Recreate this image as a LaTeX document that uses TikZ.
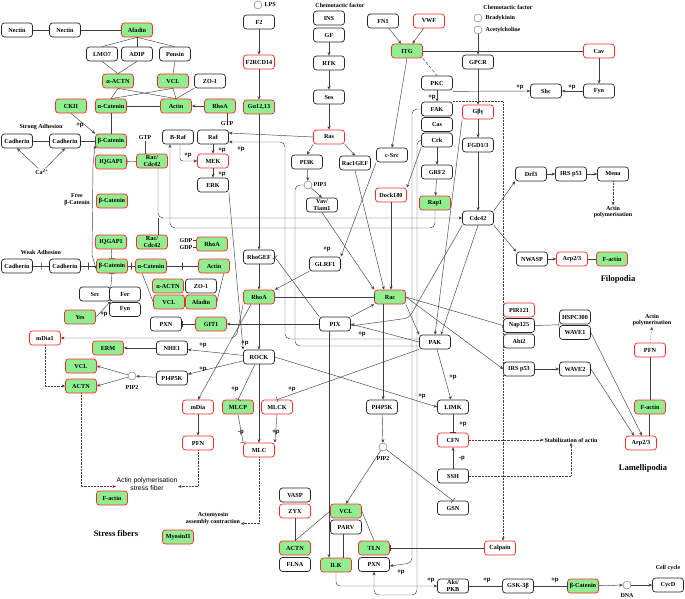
\documentclass[tikz,border=0pt]{standalone}
\usepackage{fontspec}
\setmainfont{Liberation Serif}
\newfontfamily\labfont{Liberation Sans}
\usetikzlibrary{arrows.meta,calc}
\definecolor{gfill}{RGB}{144,238,144}
\definecolor{rbord}{RGB}{255,40,40}
\begin{document}
\begin{tikzpicture}[x=1pt,y=-1pt,
  box/.style={draw, rounded corners=3pt, line width=0.7pt, minimum width=31pt, minimum height=14pt, inner sep=1pt, fill=white, font=\bfseries\fontsize{6.2}{6.6}\selectfont, align=center},
  wb/.style={box, draw=black!85},
  rb/.style={box, draw=rbord},
  gb/.style={box, draw=rbord, fill=gfill},
  ln/.style={draw=black!75, line width=0.45pt},
  ar/.style={ln, -{Stealth[length=3.5pt,width=3pt]}},
  dar/.style={ln, densely dotted, -{Stealth[length=3.5pt,width=3pt]}},
  bar/.style={ln, -{Bar[width=6pt]}},
  txt/.style={font=\bfseries\fontsize{6}{6.8}\selectfont, inner sep=0.5pt, align=center},
  big/.style={font=\bfseries\fontsize{8.5}{9}\selectfont, inner sep=0.5pt},
  sans/.style={font=\labfont\fontsize{6.8}{8}\selectfont, inner sep=0.5pt, align=center},
  pl/.style={font=\labfont\bfseries\fontsize{6}{6}\selectfont, inner sep=0.3pt},
  circ/.style={circle, draw=black!60, fill=white, minimum size=8pt, inner sep=0pt},
  tick/.style={rectangle, draw=black!75, line width=0.45pt, minimum width=0pt, minimum height=7pt, inner sep=0pt}
]
\fill[white] (0,0) rectangle (685,599);
\path[use as bounding box] (0,0) rectangle (685,599);

% ---------- top-left cluster ----------
\node[wb] (nec1) at (17,30) {Nectin};
\node[wb] (nec2) at (65,30) {Nectin};
\node[gb] (afa1) at (137,30) {Afadin};
\node[wb] (lmo7) at (102,54) {LMO7};
\node[wb] (adip) at (137,54) {ADIP};
\node[wb] (pons) at (175,54) {Ponsin};
\node[gb] (aactn1) at (118,81) {α-ACTN};
\node[gb] (vcl1) at (173,81) {VCL};
\node[wb] (zo1a) at (210,81) {ZO-1};
\node[gb] (ckii) at (71,106) {CKII};
\node[gb] (acat1) at (111,106) {α-Catenin};
\node[gb] (actin1) at (176,106) {Actin};
\node[gb] (rhoa1) at (220,106) {RhoA};
\node[txt] (gtp2) at (227,124) {GTP};

\node[txt] (strong) at (41,127) {Strong Adhesion};
\node[wb] (cad1) at (17,141) {Cadherin};
\node[wb] (cad2) at (65,141) {Cadherin};
\node[gb] (bcat1) at (111,141) {β-Catenin};
\node[txt] (gtp1) at (145,138) {GTP};
\node[gb] (iqg1) at (111,162) {IQGAP1};
\node[gb] (rcd1) at (152,161) {Rac/\\Cdc42};
\node[txt] (ca) at (42,172) {Ca\textsuperscript{2+}};
\node[txt] (free) at (77,200) {Free\\β-Catenin};
\node[gb] (bcat2) at (112,201) {β-Catenin};

% ---------- Ras / Raf ----------
\node[circ] (lps) at (258,5) {};
\node[txt, anchor=west] (lpst) at (264,5) {LPS};
\node[wb] (f2) at (259,22) {F2};
\node[rb] (f2rcd) at (259,62) {F2RCD14};
\node[gb] (ga12) at (259,107) {Gα12,13};
\node[wb] (braf) at (178,137) {B-Raf};
\node[wb] (raf) at (213,137) {Raf};
\node[rb] (mek) at (213,161) {MEK};
\node[wb] (erk) at (213,185) {ERK};
\node[txt] (chem1) at (340,5) {Chemotactic factor};
\node[wb] (ins) at (329,18) {INS};
\node[wb] (gf) at (329,35) {GF};
\node[wb] (rtk) at (329,63) {RTK};
\node[wb] (sos) at (329,97) {Sos};
\node[rb] (ras) at (329,137) {Ras};
\node[wb] (pi3k) at (307,162) {PI3K};
\node[wb] (rac1gef) at (355,163) {Rac1GEF};
\node[circ] (pip3) at (308,185) {};
\node[txt, anchor=west] (pip3t) at (313,185) {PIP3};
\node[wb] (vav) at (322,205) {Vav/\\Tiam1};

% ---------- ITG / GPCR ----------
\node[wb] (fn1) at (383,21) {FN1};
\node[rb] (vwf) at (429,21) {VWF};
\node[gb] (itg) at (407,51) {ITG};
\node[txt] (chem2) at (508,7) {Chemotactic factor};
\node[circ] (brad) at (478,18) {};
\node[txt, anchor=west] (bradt) at (485,18) {Bradykinin};
\node[circ] (ach) at (478,30) {};
\node[txt, anchor=west] (acht) at (485,30) {Acetylcholine};
\node[wb] (gpcr) at (478,62) {GPCR};
\node[rb] (cav) at (599,51) {Cav};
\node[wb] (fyn1) at (599,91) {Fyn};
\node[wb] (shc) at (546,91) {Shc};
\node[wb] (pkc) at (437,83) {PKC};
\node[wb] (fak) at (437,109) {FAK};
\node[wb] (cas) at (437,124.5) {Cas};
\node[wb] (crk) at (437,140) {Crk};
\node[wb] (grf2) at (437,172) {GRF2};
\node[gb] (rap1) at (435,203) {Rap1};
\node[rb] (gby) at (478,112) {Gβγ};
\node[wb] (fgd) at (478,145) {FGD1/3};
\node[wb] (csrc) at (392,155) {c-Src};
\node[rb] (dock) at (391,195) {Dock180};
\node[wb] (cdc42) at (478,218) {Cdc42};

% ---------- Filopodia ----------
\node[wb] (drf3) at (531,174) {Drf3};
\node[wb] (irs1) at (571,174) {IRS p53};
\node[wb] (mena) at (613,174) {Mena};
\node[txt] (apol1) at (613,212) {Actin\\polymerisation};
\node[wb] (nwasp) at (532,259) {NWASP};
\node[rb] (arp1) at (572,259) {Arp2/3};
\node[gb] (fact1) at (612,259) {F-actin};
\node[big] (filo) at (618,279) {Filopodia};

% ---------- Lamellipodia ----------
\node[rb] (pir) at (519,310) {PIR121};
\node[wb] (nap) at (519,325.5) {Nap125};
\node[wb] (abi) at (519,341) {Abi2};
\node[wb] (hspc) at (575,317) {HSPC300};
\node[wb] (wave1) at (575,332.5) {WAVE1};
\node[wb] (irs2) at (519,369) {IRS p53};
\node[wb] (wave2) at (575,369) {WAVE2};
\node[txt] (apol3) at (652,320) {Actin\\polymerisation};
\node[rb] (pfn2) at (650,350) {PFN};
\node[gb] (fact3) at (650,407) {F-actin};
\node[rb] (arp2) at (641,443) {Arp2/3};
\node[big] (lamel) at (643,468) {Lamellipodia};
\node[txt] (stab) at (571,440) {Stabilization of actin};

% ---------- weak adhesion ----------
\node[gb] (iqg2) at (111,242) {IQGAP1};
\node[gb] (rcd2) at (152,242) {Rac/\\Cdc42};
\node[txt] (weak) at (41,252) {Weak Adhesion};
\node[wb] (cad3) at (17,266) {Cadherin};
\node[wb] (cad4) at (65,266) {Cadherin};
\node[gb] (bcat3) at (112,266) {β-Catenin};
\node[gb] (acat2) at (151,266) {α-Catenin};
\node[wb] (src) at (95,294) {Src};
\node[wb] (fer) at (125,294) {Fer};
\node[wb] (fyn2) at (125,309.5) {Fyn};
\node[gb] (yes) at (80,317) {Yes};
\node[txt] (gdp1) at (186,240.5) {GDP};
\node[txt] (gdp2) at (186,247.5) {GDP};
\node[gb] (rhoa2) at (212,244) {RhoA};
\node[gb] (actin2) at (214,266) {Actin};
\node[gb] (aactn2) at (168,286) {α-ACTN};
\node[wb] (zo1b) at (201,286) {ZO-1};
\node[gb] (vcl2) at (169,302) {VCL};
\node[gb] (afa2) at (201,302) {Afadin};
\node[wb] (pxn1) at (166,324) {PXN};
\node[gb] (git1) at (211,324) {GIT1};

% ---------- Rho / Rac ----------
\node[wb] (rhogef) at (259,257) {RhoGEF};
\node[gb] (rhoa3) at (259,297) {RhoA};
\node[wb] (glrf1) at (325,264) {GLRF1};
\node[wb] (pix) at (335,324) {PIX};
\node[wb] (rock) at (259,357) {ROCK};
\node[wb] (nhe1) at (172,348) {NHE1};
\node[wb] (pi4p5k1) at (172,378) {PI4P5K};
\node[rb] (mdia1) at (45,338) {mDia1};
\node[gb] (erm) at (108,348) {ERM};
\node[gb] (vcl4) at (81,366) {VCL};
\node[gb] (actn4) at (81,386) {ACTN};
\node[circ] (pip2a) at (132,376) {};
\node[txt] (pip2at) at (132,388) {PIP2};
\node[gb] (rac) at (390,297) {Rac};
\node[wb] (pak) at (435,342) {PAK};

% ---------- lower middle ----------
\node[rb] (mdia) at (198,407) {mDia};
\node[gb] (mlcp) at (238,407) {MLCP};
\node[rb] (mlck) at (277,407) {MLCK};
\node[rb] (pfn1) at (198,443) {PFN};
\node[rb] (mlc) at (259,450) {MLC};
\node[sans] (apol2) at (147,484.5) {Actin polymerisation\\stress fiber};
\node[gb] (fact2) at (112,498) {F-actin};
\node[txt] (amy) at (213,518.5) {Actomyosin\\assembly contraction};
\node[gb] (myo) at (178,537) {MyosinII};
\node[big] (stressf) at (116,534) {Stress fibers};
\node[wb] (vasp) at (295,495) {VASP};
\node[rb] (zyx) at (295,511) {ZYX};
\node[gb] (actn3) at (295,548) {ACTN};
\node[wb] (flna) at (295,564.5) {FLNA};
\node[wb] (pi4p5k2) at (382,407) {PI4P5K};
\node[circ] (pip2b) at (383,447) {};
\node[txt] (pip2bt) at (383,459) {PIP2};
\node[gb] (vcl3) at (346,511) {VCL};
\node[wb] (parv) at (346,527) {PARV};
\node[gb] (ilk) at (336,565) {ILK};
\node[gb] (tln) at (374,548) {TLN};
\node[wb] (pxn2) at (374,564.5) {PXN};
\node[wb] (limk) at (453,407) {LIMK};
\node[rb] (cfn) at (453,440) {CFN};
\node[wb] (ssh) at (453,476) {SSH};
\node[wb] (gsn) at (453,508) {GSN};
\node[rb] (calp) at (500,548) {Calpain};
\node[wb] (akt) at (453,586) {Akt/\\PKB};
\node[wb] (gsk) at (518,586) {GSK-3β};
\node[gb] (bcat4) at (583,586) {β-Catenin};
\node[circ] (dna) at (627,585) {};
\node[txt] (dnat) at (627,596) {DNA};
\node[wb] (cycd) at (668,585) {CycD};
\node[txt] (cellc) at (668,568) {Cell cycle};

% ================= connectors =================
\draw[ln] (nec1) -- (nec2);
\draw[ln] (nec2) -- (afa1);
\draw[ln] (afa1.south) -- (lmo7.north);
\draw[ln] (afa1.south) -- (adip.north);
\draw[ln] (afa1.south) -- (pons.north);
\draw[ln] (lmo7.south) -- (aactn1.north);
\draw[ln] (adip.south) -- (aactn1.north);
\draw[ln] (pons.south) -- (vcl1.north);
\draw[ln] (aactn1.south) -- (acat1.north);
\draw[ln] (aactn1.south) -- (actin1.north);
\draw[ln] (vcl1.south) -- (acat1.north);
\draw[ln] (vcl1.south) -- (actin1.north);
\draw[ln] (zo1a.south west) -- (actin1.north);
\draw[ln] (acat1) -- (actin1);
\draw[ar] (rhoa1) -- (actin1);
\draw[ln] ([xshift=7pt]rhoa1.south) -- (gtp2.north);
\draw[ln] (acat1) -- (bcat1);
\draw[ar] (ckii.south) -- (bcat1.north west);
\node[pl] at (80,125) {+p};
\draw[ln] (cad1) -- (cad2);
\draw[bar] (cad2) -- (bcat1);
\draw[ar] (ca) -- (cad1.south);
\draw[ar] (ca) -- (cad2.south);
\draw[bar] (rcd1) -- (iqg1);
\draw[ln] (gtp1.south) -- (gtp1.south |- rcd1.north);
\draw[ln, {Stealth[length=3.5pt,width=3pt]}-{Stealth[length=3.5pt,width=3pt]}] ([yshift=3pt]bcat1.south west) -- (93,165) -- (92,255) -- ([yshift=-3pt]bcat3.west);

% weak adhesion
\draw[ln] (cad3) -- node[tick]{} (cad4);
\draw[ln] (cad4) -- node[tick]{} (bcat3);
\draw[ln] (bcat3) -- node[tick]{} (acat2);
\draw[ln] (acat2) -- node[tick]{} (actin2);
\draw[bar] (iqg2) -- (bcat3);
\draw[bar] (src.north east) -- (bcat3.south);
\draw[ar] (yes.east) -- (src.south east);
\node[pl] at (104,314) {+p};
\draw[ln] ([xshift=7pt]acat2.south west) -- (vcl2.west);
\draw[ln] ([xshift=-6pt]actin2.south east) -- (afa2.east);
\draw[ln] (gdp1.east) -- (gdp1.east -| rhoa2.west);
\draw[ln] (gdp2.east) -- (gdp2.east -| rhoa2.west);
\draw[bar] (git1) -- (pxn1);
\draw[ar] (pix) -- (git1);

% Ras/Raf/MEK
\draw[ar] (f2) -- (f2rcd);
\draw[ar] (f2rcd) -- (ga12);
\draw[ar] (ga12) -- (rhogef);
\draw[ar] (gf) -- (rtk);
\draw[ar] (rtk) -- (sos);
\draw[ar] (sos) -- (ras);
\draw[ar] (ras.west) -- ([yshift=4pt]raf.east);
\draw[ar] (ras.south west) -- (pi3k.north);
\draw[ar] (ras.south east) -- (rac1gef.north);
\draw[ar] (raf) -- (mek);
\node[pl] at (222,150) {+p};
\draw[ar] (mek) -- (erk);
\node[pl] at (222,174) {+p};
\draw[ar, rounded corners=3pt] ([xshift=2pt]braf.south) |- (mek.west);
\node[pl] at (188,155) {+p};
\draw[ar] (pi3k) -- (pip3);
\draw[ar] (pip3) -- (vav.north);
\draw[ln, rounded corners=5pt] (pip3.west) -- (295,185) -- (295,346) -- ([yshift=-4pt]pak.west);
\draw[ar, rounded corners=5pt] ([yshift=3pt]pak.west) -- (285,339) -- (285,142) -- ([yshift=-5pt]raf.east);
\node[pl] at (241,149) {+p};
\draw[ar, rounded corners=5pt] (rap1.south) |- (170,228) -- ([xshift=-8pt]braf.south);
\draw[ar, rounded corners=5pt] ([xshift=6pt]rcd1.south) |- (cdc42.west);
\draw[ln] ([xshift=6pt]rcd2.north) -- (158,218);

% ITG / GPCR
\draw[ar] (fn1) -- (itg);
\draw[ar] (vwf) -- (itg);
\draw[ln] (itg) -- (cav);
\draw[ar] (itg.south) -- (csrc.north);
\draw[ln, densely dashed] (itg.south east) -- (pkc.north);
\draw[ar] (pkc) -- (fak);
\node[pl] at (432,97) {+p};
\draw[ar] ([yshift=-1pt]pkc.south east) -- (shc.west);
\node[pl] at (520,87) {+p};
\draw[ar] (fyn1) -- (shc);
\node[pl] at (572,87) {+p};
\draw[ar] (cav) -- (fyn1);
\draw[ar] (ach) -- (gpcr);
\draw[ar] (gpcr) -- (gby);
\draw[ar] (gby) -- (fgd);
\draw[ar] (fgd) -- (cdc42);
\draw[dar] (fak.north east) -| ([xshift=3pt]calp.north);
\draw[ar, rounded corners=5pt] (fak.west) -- (412,109) -- (412,563) -- ([yshift=-1.5pt]pxn2.east);
\node[pl] at (401,572) {+p};
\draw[ar, rounded corners=5pt] (crk.west) -- (417,140) -- (417,595) -- (374,595) -- (pxn2.south);
\draw[ar] (crk) -- (grf2);
\draw[ar] (grf2) -- (rap1);
\draw[ar] (crk.south west) -- (dock.north east);
\draw[ar] (csrc.south west) -- (glrf1.north east);
\node[pl] at (327,249) {+p};

% Rac / Cdc42
\draw[ar] (vav.south) -- (rac.north west);
\draw[ar] (rac1gef.south) -- ([xshift=-6pt]rac.north);
\draw[ar] (dock) -- (dock |- rac.north);
\draw[ar] (pix.north east) -- (rac.south west);
\draw[ar] (pak.west) -- (pix.east);
\node[pl] at (362,334) {+p};
\draw[ln, rounded corners=5pt] (cdc42.south west) -- (409,318) -- ([yshift=-2pt]pix.east);
\draw[ar] (rac.south east) -- (pak.north west);
\draw[ar] ([xshift=-7pt]rac.south) -- (pi4p5k2.north -| 383,0);
\draw[bar] (rac.east) -- (nap.west);
\draw[ar] (rac.east) -- (irs2.west);
\draw[ar] (cdc42.south) -- ([xshift=6pt]pak.north);
\draw[ar] (gby.south west) -- (pak.north);
\draw[ar] (cdc42.north east) -- (drf3.south west);
\draw[ar] (cdc42.south east) -- (nwasp.north west);
\draw[ar] (drf3) -- (irs1);
\draw[ar] (irs1) -- (mena);
\draw[dar] (mena.south) -- (apol1.north);
\draw[ar] (nwasp) -- (arp1);
\draw[ln] (arp1) -- (fact1);

% Rho
\draw[ar] (rhogef) -- (rhoa3);
\draw[bar] (pix.north west) -- (rhogef.east);
\draw[ar] (glrf1.south west) -- (rhoa3.north east);
\draw[bar] (rhoa3) -- (rac);
\draw[ar] (rhoa3) -- (rock);
\draw[ar, rounded corners=5pt] (rhoa3.south west) -- (236,338) -- (mdia1.east);
\draw[ar] ([xshift=-8pt]rhoa3.south) -- (mdia.north);
\draw[ar] (erk.south east) -- (rock.north west);
\node[pl] at (245,343) {+p};
\draw[ar] (rock) -- (nhe1);
\node[pl] at (203,345) {+p};
\draw[ar] (rock) -- (pi4p5k1);
\node[pl] at (203,369) {+p};
\draw[bar] ([xshift=-4pt]rock.south) -- (mlcp.north);
\node[pl] at (235,389) {+p};
\draw[ar] (rock) -- (mlc);
\draw[ar] (rock.east) -- (limk.west);
\node[pl] at (422,396) {+p};
\draw[bar] (pak.south west) -- (mlck.north);
\node[pl] at (292,389) {+p};
\draw[ar] (pak) -- (limk);
\node[pl] at (453,377) {+p};
\draw[ar] (nhe1) -- (erm);
\draw[ar] (pi4p5k1) -- (pip2a);
\draw[ar] (pip2a) -- (vcl4.east);
\draw[ar] (pip2a) -- (actn4.east);
\draw[dar] (mdia1.south) |- (actn4.west);
\draw[dar] (actn4.south) |- ([yshift=-2pt]apol2.west);
\draw[bar] (mlcp.south) -- (mlc.north west);
\node[pl] at (241,432) {-p};
\draw[ar] (mlck.south) -- (mlc.north east);
\node[pl] at (276,432) {+p};
\draw[ar] (mdia) -- (pfn1);
\draw[dar] (pfn1.south) |- ([yshift=-2pt]apol2.east);
\draw[dar] (mlc.south) |- ([yshift=-5pt]amy.east);

% lower middle
\draw[ar] (pi4p5k2) -- (pip2b);
\draw[ar] (pip2b) -- (vcl3.north);
\draw[bar] (pip2b) -- (gsn.north);
\draw[ln] (vcl3.east) -- (tln.north);
\draw[ln] (vcl3.west) -- (actn3.north);
\draw[ln] (zyx) -- (actn3);
\draw[ln] ([xshift=-3pt]parv.south) -- ([xshift=7pt]ilk.north);
\draw[ar] ([xshift=-6pt]pix.south) -- ([xshift=-7pt]ilk.north);
\draw[bar] (calp) -- (tln);
\draw[ar, rounded corners=4pt] (ilk.south) |- (akt.west);
\node[pl] at (431,580) {+p};
\draw[bar] (akt) -- (gsk);
\node[pl] at (487,580) {+p};
\draw[bar] (gsk) -- (bcat4);
\node[pl] at (555,580) {+p};
\draw[ar] (bcat4) -- (dna);
\draw[ar] (dna) -- (cycd);

% CFN
\draw[bar] (limk) -- (cfn);
\node[pl] at (463,424) {+p};
\draw[ar] (ssh) -- (cfn);
\node[pl] at (462,458) {-p};
\draw[dar] (cfn.east) -- (stab.west);
\draw[dar] (ssh.east) -| (stab.south);

% lamellipodia
\draw[bar] (nap.east) -- ($(hspc.south west)!0.5!(wave1.north west)$);
\draw[ar] (irs2) -- (wave2);
\draw[ar] (wave1.east) -- ([xshift=1pt]arp2.north);
\draw[ar] (wave2.east) -- ([xshift=-7pt]arp2.north);
\draw[ln] ([xshift=-1pt]fact3.south) -- ([xshift=8pt]arp2.north);
\draw[ln] (pfn2) -- (fact3);
\draw[dar] (pfn2.north) -- (apol3.south);
\end{tikzpicture}
\end{document}
